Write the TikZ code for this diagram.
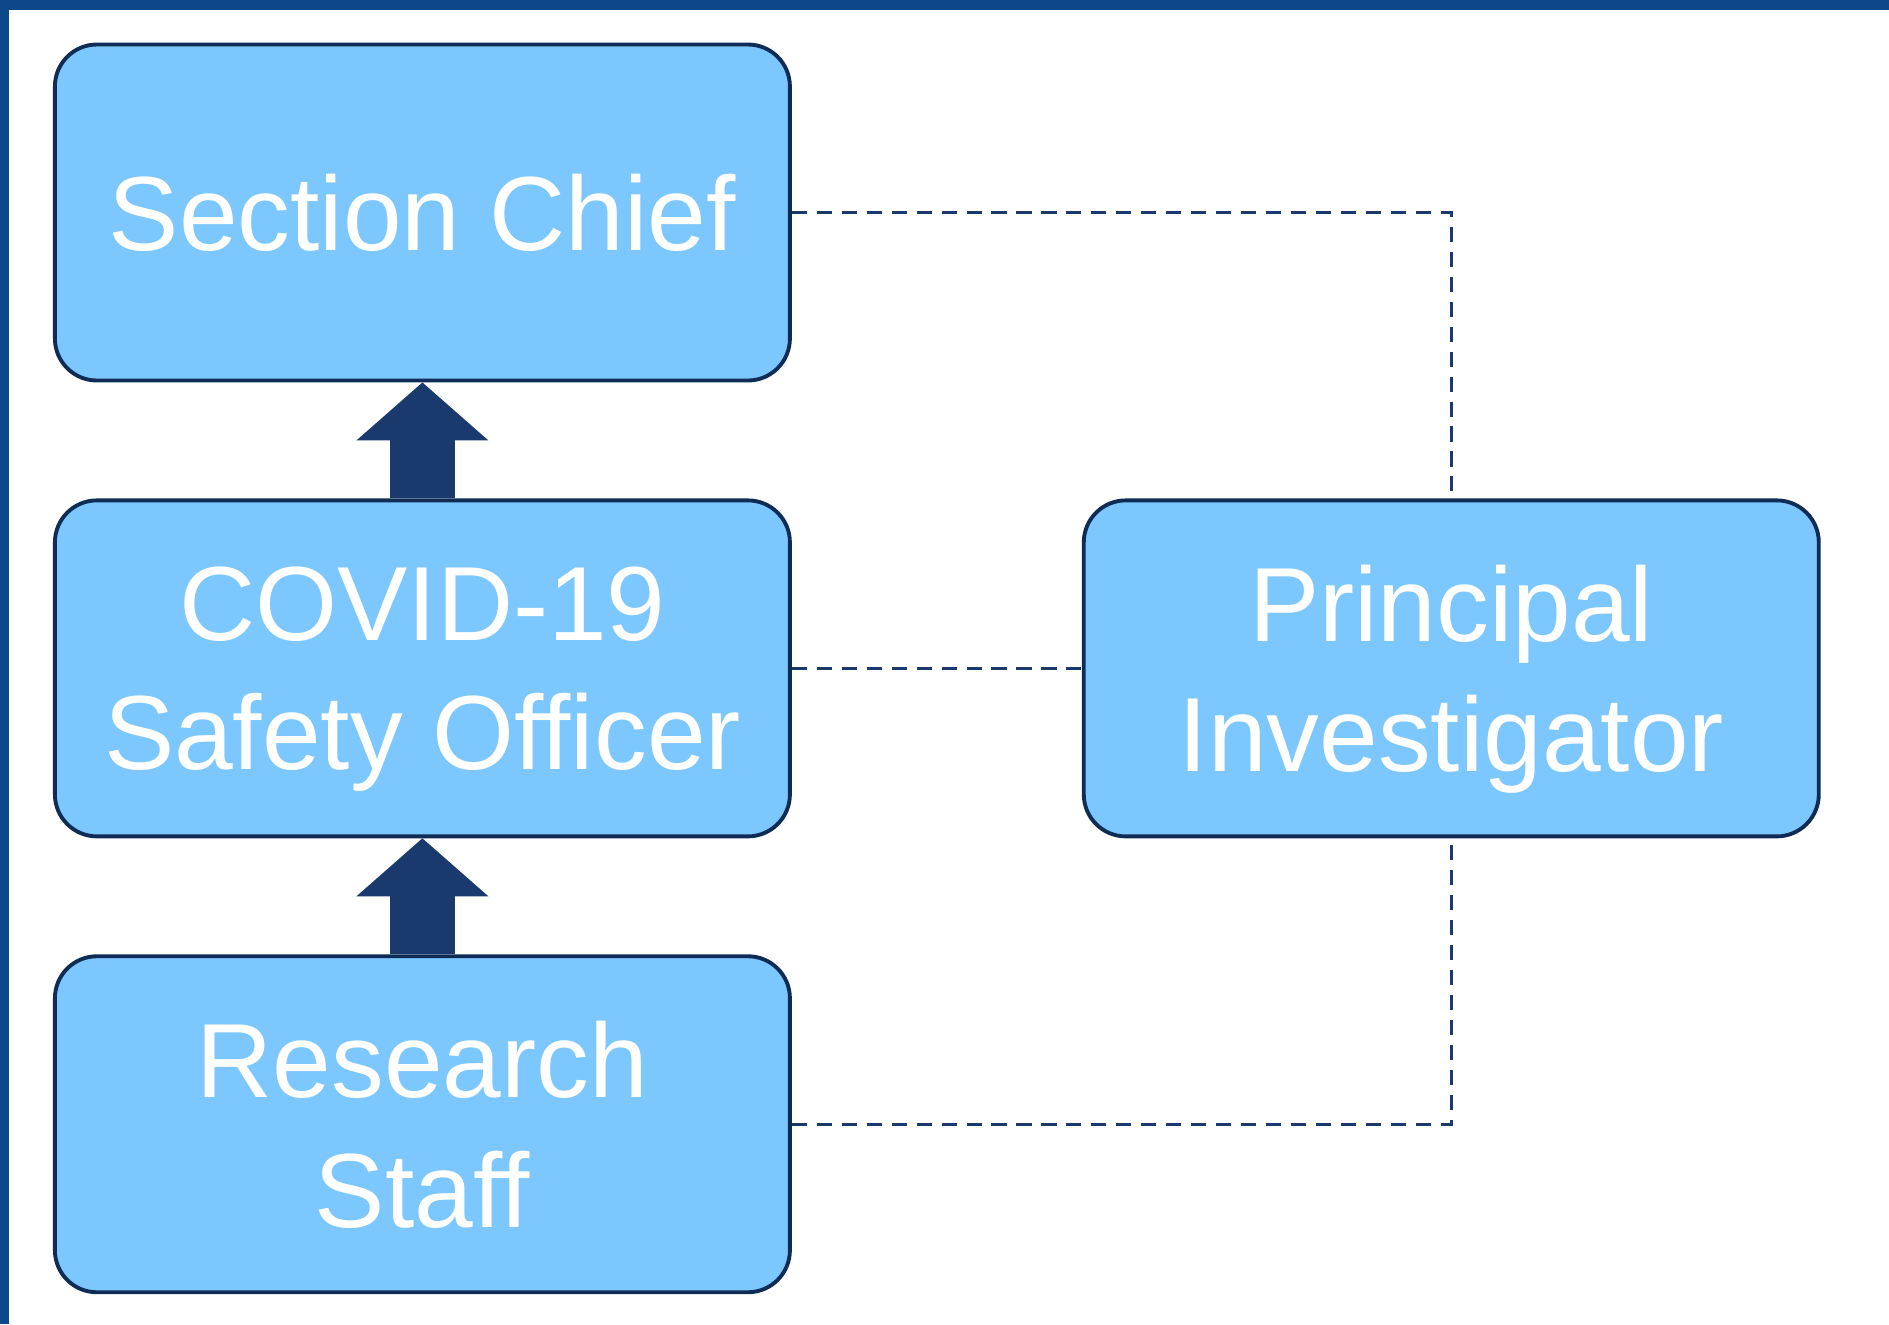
\documentclass[tikz,border=0pt]{standalone}
\usepackage{fontspec}
\setmainfont{Liberation Sans}
\usepackage{tikz}
\usetikzlibrary{positioning, arrows.meta}
\definecolor{bandblue}{HTML}{0C488A}
\definecolor{boxfill}{HTML}{7CC7FD}
\definecolor{boxline}{HTML}{0F2C56}
\definecolor{navy}{HTML}{1A3A6E}

\begin{document}
\begin{tikzpicture}[node distance={1.16cm and 2.9cm},
        box/.style = {draw=boxline, fill=boxfill, line width=1.1pt,
                        rounded corners=0.42cm, minimum width=7.35cm,
                        minimum height=3.36cm, align=center, text=white,
                        text depth=0pt,
                        font=\fontsize{30}{36.8}\selectfont},
        link/.style = {draw=navy, line width=0.85pt,
                        dash pattern=on 4.3pt off 2.8pt},
        up/.style = {draw=navy, line width=0.65cm,
                        -{Triangle[width=1.32cm, length=0.58cm, line width=0pt]}}]
        \useasboundingbox (0,0) rectangle (18.89,-13.24);
        \fill[bandblue] (0,0) rectangle (18.89,-0.095);
        \fill[bandblue] (0,0) rectangle (0.088,-13.24);

        \node[box] (chief) at (4.224,-2.125) {Section Chief};
        \node[box] (cso) [below=of chief] {COVID-19\\Safety Officer};
        \node[box] (staff) [below=of cso] {Research\\Staff};
        \node[box] (pi) [right=of cso] {Principal\\Investigator};

        \draw[up] (cso) -- (chief);
        \draw[up] (staff) -- (cso);
        \draw[link] (chief) -| (pi);
        \draw[link] (cso) -- (pi);
        \draw[link] (staff) -| (pi);
    \end{tikzpicture}
\end{document}
